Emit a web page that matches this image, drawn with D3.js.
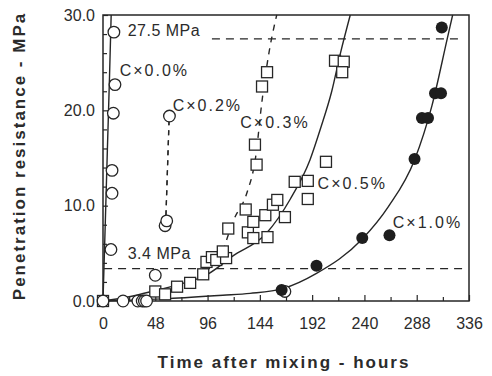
<!DOCTYPE html>
<html><head><meta charset="utf-8">
<script src="https://cdn.jsdelivr.net/npm/d3@7"></script>
<style>
html,body{margin:0;padding:0;background:#fff;}
svg{display:block;}
text{font-family:"Liberation Sans",Arial,Helvetica,sans-serif;fill:#2b2b2b;}
</style></head>
<body>
<svg id="chart" width="492" height="376"></svg>
<script>
// ---- data (hours, MPa) ----
const xTicksMajor = [0,48,96,144,192,240,288,336];
const xTicksMinor = [24,72,120,168,216,264,312];
const yTicksMajor = [0,10,20,30];
const yTicksMinor = [2,4,6,8,12,14,16,18,22,24,26,28];

const c00Points = [[0,0],[7.3,5.4],[8.3,11.3],[8.3,13.7],[9.5,19.7],[11,22.7],[10,28.2]];
const c00Line   = [[0,0],[2,7.8],[4,15.8],[6,23.6],[7.5,30]];

const c02Points = [[18.4,0],[32,0],[36,0],[38,0],[40,0],[48,2.7],[57,7.9],[58.5,8.4],[61,19.4],[167,1.0]];
const c02Line   = [[57.8,9.0],[60.6,18.8]];

const c03Points = [[110,5.2],[115,7.6],[131,9.6],[141,14.3],[139.5,16.4],[146,22.5],[150.6,24.0]];
const c03Line   = [[110,5.2],[120,8.5],[132,11.3],[140,15],[146,21],[152,25.8],[159.5,30]];

const c05Points = [[0,0],[48,1.0],[57,0.7],[68,1.5],[80,1.9],[92,2.8],[95,4.1],[100,4.6],[104,4.3],[113,4.5],
  [133,7.2],[138,6.6],[138,8.3],[151,6.7],[149,9.0],[156,10.1],[160,10.6],[167,8.8],[176,12.5],[188,12.6],
  [188,10.7],[204.7,14.6],[213,25.2],[221,25.1],[219.6,24.0]];
const c05Line   = [[0,0],[24,0.45],[48,1.1],[72,1.8],[96,2.8],[119,4.7],[150,7.1],[172,10.7],[190,14.8],[200,18.2],[210,22.0],[218,26.0],[227,30]];

const c10Points = [[164,1.15],[196,3.7],[238,6.6],[263,6.9],[286,14.9],[292.8,19.2],[298.4,19.2],[304.8,21.8],[310.3,21.8],[311,28.7]];
const c10Line   = [[0,0],[60,0.25],[110,0.6],[135,0.8],[165,1.3],[196,2.9],[238,6.5],[262,9.9],[286,14.8],[302,20.5],[316,27.5],[321,30]];

const labels = [
  {text:"27.5 MPa", x:8,   y:27.5, dx:16, dy:-3,  ls:0.5},
  {text:"C×0.0%",  x:8,   y:23.6, dx:8,  dy:0,   ls:2},
  {text:"C×0.2%",  x:64,  y:19.9, dx:0,  dy:0,   ls:2},
  {text:"C×0.3%",  x:126, y:18.1, dx:0,  dy:0,   ls:2},
  {text:"C×0.5%",  x:197, y:11.8, dx:0,  dy:0,   ls:2},
  {text:"C×1.0%",  x:266, y:7.7,  dx:0,  dy:0,   ls:2},
  {text:"3.4 MPa", x:8,   y:4.4,  dx:16, dy:0,   ls:0.5}
];

// ---- scales ----
const svg = d3.select("#chart");
const x = d3.scaleLinear().domain([0,336]).range([103,469]);
const y = d3.scaleLinear().domain([0,30]).range([301,15]);
const ink = "#262626";

// axes
const gx = svg.append("g").attr("transform",`translate(0,${y(0)})`)
  .call(d3.axisBottom(x).tickValues(xTicksMajor).tickSizeInner(-6).tickSizeOuter(0).tickPadding(17));
const gx2 = svg.append("g").attr("transform",`translate(0,${y(0)})`)
  .call(d3.axisBottom(x).tickValues(xTicksMinor).tickSizeInner(-4).tickSizeOuter(0).tickFormat(""));
const gy = svg.append("g").attr("transform",`translate(${x(0)},0)`)
  .call(d3.axisLeft(y).tickValues(yTicksMajor).tickSizeInner(-5).tickSizeOuter(0).tickPadding(8).tickFormat(d3.format(".1f")));
const gy2 = svg.append("g").attr("transform",`translate(${x(0)},0)`)
  .call(d3.axisLeft(y).tickValues(yTicksMinor).tickSizeInner(-4).tickSizeOuter(0).tickFormat(""));
[gx,gx2,gy,gy2].forEach(g=>{
  g.select(".domain").remove();
  g.selectAll(".tick line").attr("stroke",ink).attr("stroke-width",1.2);
  g.selectAll(".tick text").style("font-size","16px").attr("fill","#333");
});

// frame
svg.append("rect").attr("x",x(0)).attr("y",y(30)).attr("width",x(336)-x(0)).attr("height",y(0)-y(30))
  .attr("fill","none").attr("stroke",ink).attr("stroke-width",1.5);

// reference dashed lines
svg.append("line").attr("x1",x(100)).attr("x2",x(331)).attr("y1",y(27.5)).attr("y2",y(27.5))
  .attr("stroke",ink).attr("stroke-width",1.3).attr("stroke-dasharray","8,6");
svg.append("line").attr("x1",x(1)).attr("x2",x(331)).attr("y1",y(3.4)).attr("y2",y(3.4))
  .attr("stroke",ink).attr("stroke-width",1.3).attr("stroke-dasharray","8,6");

// curves
const line = d3.line().x(d=>x(d[0])).y(d=>y(d[1])).curve(d3.curveMonotoneX);
[[c00Line,null],[c05Line,null],[c10Line,null],[c02Line,"5,5"],[c03Line,"6,6"]].forEach(([data,dash])=>{
  svg.append("path").datum(data).attr("d",line).attr("fill","none").attr("stroke",ink)
    .attr("stroke-width",1.4).attr("stroke-dasharray",dash);
});

// markers
const sq = 11;
svg.append("g").selectAll("rect").data(c05Points.concat(c03Points)).join("rect")
  .attr("x",d=>x(d[0])-sq/2).attr("y",d=>y(d[1])-sq/2).attr("width",sq).attr("height",sq)
  .attr("fill","#fff").attr("stroke",ink).attr("stroke-width",1.3);
svg.append("g").selectAll("circle").data(c00Points.concat(c02Points)).join("circle")
  .attr("cx",d=>x(d[0])).attr("cy",d=>y(d[1])).attr("r",5.8)
  .attr("fill","#fff").attr("stroke",ink).attr("stroke-width",1.3);
svg.append("g").selectAll("circle").data(c10Points).join("circle")
  .attr("cx",d=>x(d[0])).attr("cy",d=>y(d[1])).attr("r",6)
  .attr("fill","#1e1e1e");
svg.append("path").datum(c02Line).attr("d",line).attr("fill","none").attr("stroke",ink)
  .attr("stroke-width",1.2).attr("stroke-dasharray","5,5");

// annotations
svg.append("g").selectAll("text").data(labels).join("text")
  .attr("x",d=>x(d.x)+d.dx).attr("y",d=>y(d.y)+d.dy)
  .style("font-size","16px").style("letter-spacing",d=>d.ls+"px")
  .text(d=>d.text);

// axis titles
svg.append("text").attr("x",284).attr("y",368).attr("text-anchor","middle")
  .style("font-size","17px").style("font-weight","bold").style("letter-spacing","2px")
  .text("Time after mixing - hours");
svg.append("text").attr("transform","translate(25,156) rotate(-90)").attr("text-anchor","middle")
  .style("font-size","17px").style("font-weight","bold").style("letter-spacing","2px")
  .text("Penetration resistance - MPa");
</script>
</body></html>
